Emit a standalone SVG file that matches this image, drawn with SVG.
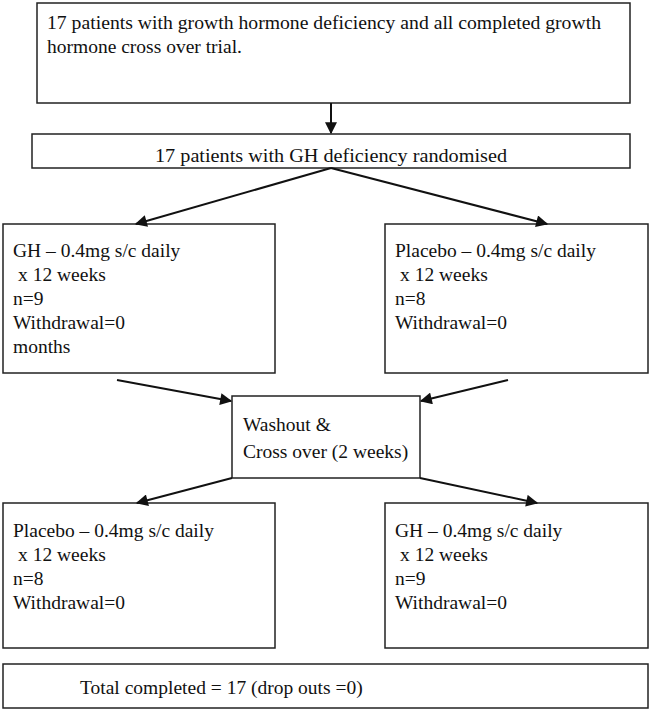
<svg xmlns="http://www.w3.org/2000/svg" width="649" height="711" viewBox="0 0 649 711">
<style>
.box{fill:#fff;stroke:#222;stroke-width:1.5}
.t{font-family:"Liberation Serif","Times New Roman",serif;font-size:19.5px;fill:#111}
.c{stroke:#111;stroke-width:2;fill:none;marker-end:url(#ah)}
</style>
<defs>
<marker id="ah" viewBox="0 0 10 10" refX="9" refY="5" markerWidth="7" markerHeight="6" markerUnits="strokeWidth" orient="auto">
<path d="M0,0 L10,5 L0,10 z" fill="#111"/>
</marker>
</defs>
<rect width="649" height="711" fill="#fff"/>
<g id="n-top">
<rect class="box" x="37" y="3" width="593" height="100"/>
<text class="t" x="47" y="29" textLength="554" lengthAdjust="spacingAndGlyphs">17 patients with growth hormone deficiency and all completed growth</text>
<text class="t" x="47" y="53">hormone cross over trial.</text>
</g>
<g id="n-rand">
<rect class="box" x="32" y="134" width="598" height="34"/>
<text class="t" x="331" y="162" text-anchor="middle" textLength="352" lengthAdjust="spacingAndGlyphs">17 patients with GH deficiency randomised</text>
</g>
<g id="n-gh1">
<rect class="box" x="3" y="224" width="272" height="149"/>
<text class="t" x="13" y="257">GH – 0.4mg s/c daily</text>
<text class="t" x="18" y="281">x 12 weeks</text>
<text class="t" x="13" y="305">n=9</text>
<text class="t" x="13" y="329">Withdrawal=0</text>
<text class="t" x="13" y="353">months</text>
</g>
<g id="n-pl1">
<rect class="box" x="385" y="224" width="263" height="149"/>
<text class="t" x="395" y="257">Placebo – 0.4mg s/c daily</text>
<text class="t" x="400" y="281">x 12 weeks</text>
<text class="t" x="395" y="305">n=8</text>
<text class="t" x="395" y="329">Withdrawal=0</text>
</g>
<g id="n-wash">
<rect class="box" x="232" y="396" width="188" height="82"/>
<text class="t" x="243" y="431">Washout &amp;</text>
<text class="t" x="243" y="458">Cross over (2 weeks)</text>
</g>
<g id="n-pl2">
<rect class="box" x="3" y="503" width="272" height="145"/>
<text class="t" x="13" y="537">Placebo – 0.4mg s/c daily</text>
<text class="t" x="18" y="561">x 12 weeks</text>
<text class="t" x="13" y="585">n=8</text>
<text class="t" x="13" y="609">Withdrawal=0</text>
</g>
<g id="n-gh2">
<rect class="box" x="385" y="503" width="263" height="145"/>
<text class="t" x="395" y="537">GH – 0.4mg s/c daily</text>
<text class="t" x="400" y="561">x 12 weeks</text>
<text class="t" x="395" y="585">n=9</text>
<text class="t" x="395" y="609">Withdrawal=0</text>
</g>
<g id="n-total">
<rect class="box" x="3" y="664" width="645" height="44"/>
<text class="t" x="80" y="694">Total completed = 17 (drop outs =0)</text>
</g>
<g id="connectors">
<line class="c" x1="331" y1="103" x2="331" y2="133"/>
<line class="c" x1="331" y1="168" x2="136" y2="224"/>
<line class="c" x1="331" y1="168" x2="547" y2="224"/>
<line class="c" x1="117" y1="380" x2="231" y2="401"/>
<line class="c" x1="508" y1="380" x2="421" y2="401"/>
<line class="c" x1="232" y1="478" x2="137" y2="503"/>
<line class="c" x1="420" y1="478" x2="537" y2="503"/>
</g>
</svg>
